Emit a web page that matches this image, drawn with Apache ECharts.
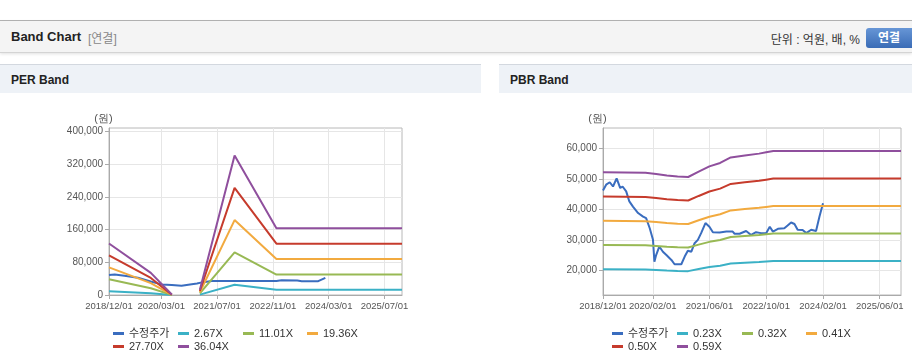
<!DOCTYPE html>
<html>
<head>
<meta charset="utf-8">
<script src="https://cdn.jsdelivr.net/npm/echarts@6/dist/echarts.min.js"></script>
<style>
body{margin:0;background:#fff;font-family:"Liberation Sans","Noto Sans CJK KR",sans-serif;width:912px;height:364px;overflow:hidden;position:relative}
.topline{position:absolute;left:0;top:20px;width:912px;height:1px;background:#b4b4b4}
.hd{position:absolute;left:0;top:21px;width:912px;height:31px;background:#f4f4f4;border-bottom:1px solid #d4d4d4;box-shadow:0 1px 3px rgba(0,0,0,.12)}
.hd .t{position:absolute;left:11px;top:8px;font-size:13px;font-weight:bold;color:#222}
.hd .s{position:absolute;left:88px;top:8px;font-size:12px;color:#888}
.hd .u{position:absolute;right:52px;top:9px;font-size:12px;color:#333}
.btn{position:absolute;left:866px;top:7px;width:52px;height:20px;border-radius:3px;background:linear-gradient(#6796d6,#3a6cb6);color:#fff;font-weight:bold;font-size:12px;line-height:20px;text-indent:12px}
.ph{position:absolute;top:64px;height:28px;background:#eef2f7;border-top:1px solid #d3d8df}
.ph span{position:absolute;left:11px;top:8px;font-size:12px;font-weight:bold;color:#222}
.chart{position:absolute;top:93px;height:271px}
</style>
</head>
<body>
<div class="topline"></div>
<div class="hd">
  <span class="t">Band Chart</span><span class="s">[연결]</span>
  <span class="u">단위 : 억원, 배, %</span>
  <div class="btn">연결</div>
</div>
<div class="ph" style="left:0;width:481px"><span>PER Band</span></div>
<div class="ph" style="left:499px;width:413px"><span>PBR Band</span></div>
<div class="chart" id="chartPer" style="left:0;width:483px"></div>
<div class="chart" id="chartPbr" style="left:499px;width:413px"></div>
<script type="text/javascript">
// colours: price, then bands from low to high multiple
var colors = ['#3a6dbf', '#3bb1c6', '#98b954', '#f2aa3f', '#c63b2c', '#8f4f9d'];

// ---- PER Band ----
var perTickLabels = ['2018/12/01', '2020/03/01', '2021/07/01', '2022/11/01', '2024/03/01', '2025/07/01'];
var perYTicks = [0, 80000, 160000, 240000, 320000, 400000];
var perNames = ['수정주가', '2.67X', '11.01X', '19.36X', '27.70X', '36.04X'];

var perPriceDates = ['2018-12-01', '2019-01-20', '2019-04-15', '2019-08-10', '2019-12-07', '2020-03-03', '2020-06-01', '2020-08-25',
  '2020-11-07', '2021-01-07', '2021-02-18', '2021-05-15', '2022-12-01', '2023-01-15', '2023-06-01', '2023-07-10', '2023-12-01', '2024-02-01'];
var perPrice = [48900, 50300, 47100, 42300, 32500, 25900, 24400, 22700,
  25900, 28300, 30800, 34200, 34200, 35800, 35500, 33600, 33800, 42000];

var perBandDates = ['2018-12-01', '2019-12-01', '2020-06-01', '2020-10-01', '2021-02-01', '2021-12-01', '2022-12-01', '2025-12-01'];
var per267 = [9300, 4000, 100, null, 900, 25200, 13000, 13000];
var per1101 = [38400, 16500, 300, null, 3900, 104000, 50000, 50000];
var per1936 = [67600, 29000, 600, null, 6800, 183000, 87700, 87700];
var per2770 = [96700, 41600, 800, null, 9700, 261800, 125500, 125500];
var per3604 = [125800, 54100, 1100, null, 12600, 340600, 163300, 163300];

// ---- PBR Band ----
var pbrTickLabels = ['2018/12/01', '2020/02/01', '2021/06/01', '2022/10/01', '2024/02/01', '2025/06/01'];
var pbrYTicks = [20000, 30000, 40000, 50000, 60000];
var pbrNames = ['수정주가', '0.23X', '0.32X', '0.41X', '0.50X', '0.59X'];

var pbrPriceDates = ['2018-12-01', '2018-12-28', '2019-01-28', '2019-02-25', '2019-03-28', '2019-04-28', '2019-05-18', '2019-06-18',
  '2019-07-15', '2019-08-15', '2019-09-28', '2019-11-10', '2019-12-06', '2020-01-06', '2020-02-03', '2020-02-15', '2020-03-01',
  '2020-03-28', '2020-04-28', '2020-05-28', '2020-07-10', '2020-08-06', '2020-10-03', '2020-11-01', '2020-11-28', '2020-12-28',
  '2021-01-25', '2021-02-22', '2021-03-22', '2021-04-28', '2021-06-01', '2021-07-01', '2021-08-28', '2021-10-25', '2021-12-18',
  '2022-01-03', '2022-02-15', '2022-04-12', '2022-05-25', '2022-07-06', '2022-07-20', '2022-08-18', '2022-10-01', '2022-11-01',
  '2022-11-28', '2023-01-10', '2023-03-06', '2023-04-03', '2023-05-03', '2023-06-01', '2023-06-28', '2023-08-10', '2023-09-10',
  '2023-10-22', '2023-12-03', '2024-01-01', '2024-02-01'];
var pbrPrice = [46200, 48100, 48900, 47500, 50200, 47000, 47500, 45900,
  42600, 40900, 38800, 37600, 37100, 33800, 30000, 22800, 25000,
  27800, 26100, 25000, 23400, 22000, 22000, 24500, 26400, 26100,
  28900, 30000, 32200, 35500, 34300, 32500, 32400, 32700, 32700,
  32000, 32000, 32900, 31600, 32500, 32700, 32200, 32200, 34300,
  32700, 33600, 33800, 34700, 35700, 35200, 33300, 33200, 32200,
  33300, 32900, 37600, 42000];

var pbrBandDates = ['2018-12-01', '2019-12-01', '2020-03-01', '2020-06-01', '2020-09-01', '2020-12-01', '2021-03-01', '2021-06-01',
  '2021-09-01', '2021-12-01', '2022-04-01', '2022-08-01', '2022-10-01', '2022-12-01', '2025-12-01'];
var pbr023 = [20330, 20260, 20130, 19940, 19800, 19730, 20420, 21090, 21530, 22240, 22490, 22720, 22890, 23050, 23050];
var pbr032 = [28290, 28190, 28000, 27740, 27550, 27460, 28420, 29340, 29950, 30940, 31300, 31620, 31840, 32060, 32060];
var pbr041 = [36240, 36120, 35880, 35550, 35300, 35180, 36410, 37600, 38380, 39650, 40100, 40510, 40800, 41080, 41080];
var pbr050 = [44200, 44050, 43750, 43350, 43050, 42900, 44400, 45850, 46800, 48350, 48900, 49400, 49750, 50100, 50100];
var pbr059 = [52160, 51980, 51630, 51150, 50800, 50620, 52390, 54100, 55220, 57050, 57700, 58290, 58710, 59120, 59120];

var xStart = '2018-12-01', xEnd = '2025-12-01';

function toTime(s) {
  var p = s.split(/[-\/]/);
  return new Date(+p[0], +p[1] - 1, +p[2]).getTime();
}
function pad(n) { return n < 10 ? '0' + n : '' + n; }
function fmtDate(v) {
  var d = new Date(v);
  return d.getFullYear() + '/' + pad(d.getMonth() + 1) + '/' + pad(d.getDate());
}
function pairs(dates, vals) {
  return dates.map(function (d, i) { return [toTime(d), vals[i] == null ? '-' : vals[i]]; });
}

function buildOption(c) {
  var xTicks = c.xLabels.map(toTime);
  var legendLeft = [108, 173, 238, 302];
  var legends = c.names.map(function (n, i) {
    return {
      data: [n], left: legendLeft[i % 4], top: i < 4 ? 230 : 243,
      icon: 'rect', itemWidth: 11, itemHeight: 3, selectedMode: false,
      textStyle: { fontSize: 11, color: '#333', fontFamily: 'Liberation Sans, Noto Sans CJK KR' }
    };
  });
  var series = c.lines.map(function (l, i) {
    return {
      name: c.names[i], type: 'line', data: l, showSymbol: false, symbol: 'none',
      connectNulls: false, silent: true,
      lineStyle: { width: 2, color: colors[i] }, itemStyle: { color: colors[i] }
    };
  });
  return {
    animation: false,
    grid: { left: c.left, top: 35, width: c.width, height: 167, show: true, borderColor: '#b8b8b8', borderWidth: 1, backgroundColor: '#fff' },
    legend: legends,
    xAxis: {
      type: 'value', min: toTime(xStart), max: toTime(xEnd),
      axisLine: { lineStyle: { color: '#aaa' } },
      axisTick: { show: true, customValues: xTicks, length: 4, lineStyle: { color: '#aaa' } },
      axisLabel: {
        customValues: xTicks, fontSize: 9.5, color: '#555', margin: 6,
        hideOverlap: false, showMinLabel: true, showMaxLabel: true,
        formatter: fmtDate
      },
      splitLine: { show: true, lineStyle: { color: '#e6e6e6' } }
    },
    yAxis: {
      type: 'value', min: c.yMin, max: c.yMax,
      name: '(원)', nameLocation: 'end', nameGap: 4,
      nameTextStyle: { fontSize: 11, color: '#555', align: 'center', padding: [0, 11, 0, 0] },
      axisLine: { show: true, lineStyle: { color: '#aaa' } },
      axisTick: { show: true, customValues: c.yTicks, length: 4, lineStyle: { color: '#aaa' } },
      axisLabel: {
        customValues: c.yTicks, fontSize: 10, color: '#555', margin: 6,
        formatter: function (v) { return v.toLocaleString('en-US'); }
      },
      splitLine: { show: true, lineStyle: { color: '#e6e6e6' } }
    },
    series: series
  };
}

var chartPer = echarts.init(document.getElementById('chartPer'));
chartPer.setOption(buildOption({
  left: 109, width: 293, yMin: 0, yMax: 408000, yTicks: perYTicks, xLabels: perTickLabels, names: perNames,
  lines: [pairs(perPriceDates, perPrice), pairs(perBandDates, per267), pairs(perBandDates, per1101),
    pairs(perBandDates, per1936), pairs(perBandDates, per2770), pairs(perBandDates, per3604)]
}));

var chartPbr = echarts.init(document.getElementById('chartPbr'));
chartPbr.setOption(buildOption({
  left: 104, width: 298, yMin: 11900, yMax: 66700, yTicks: pbrYTicks, xLabels: pbrTickLabels, names: pbrNames,
  lines: [pairs(pbrPriceDates, pbrPrice), pairs(pbrBandDates, pbr023), pairs(pbrBandDates, pbr032),
    pairs(pbrBandDates, pbr041), pairs(pbrBandDates, pbr050), pairs(pbrBandDates, pbr059)]
}));

window.onresize = function () {
  chartPer.resize();
  chartPbr.resize();
};
</script>
</body>
</html>
